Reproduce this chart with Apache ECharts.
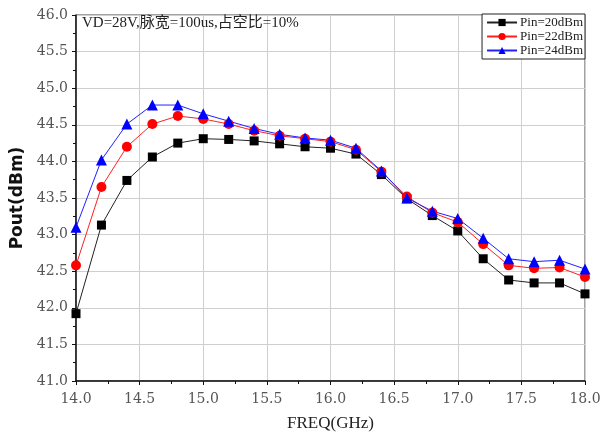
<!DOCTYPE html>
<html>
<head>
<meta charset="utf-8">
<script src="https://cdn.jsdelivr.net/npm/echarts@6/dist/echarts.min.js"></script>
<style>html,body{margin:0;padding:0;background:#fff;}#c{width:600px;height:437px;}</style>
</head>
<body>
<div id="c"></div>
<script>
var freq = [14.0,14.2,14.4,14.6,14.8,15.0,15.2,15.4,15.6,15.8,16.0,16.2,16.4,16.6,16.8,17.0,17.2,17.4,17.6,17.8,18.0];
var pin20 = [41.92,43.13,43.74,44.06,44.25,44.31,44.30,44.28,44.24,44.20,44.18,44.10,43.82,43.49,43.26,43.05,42.67,42.38,42.34,42.34,42.19];
var pin22 = [42.58,43.65,44.20,44.51,44.62,44.58,44.51,44.42,44.35,44.31,44.27,44.16,43.86,43.52,43.30,43.17,42.87,42.58,42.54,42.55,42.42];
var pin24 = [43.10,44.02,44.51,44.77,44.77,44.65,44.55,44.45,44.37,44.32,44.29,44.18,43.87,43.50,43.32,43.22,42.95,42.67,42.63,42.65,42.53];
var seriesNames = ['Pin=20dBm','Pin=22dBm','Pin=24dBm'];
var annotation = 'VD=28V,脉宽=100us,占空比=10%';

function pairs(ys){ return freq.map(function(x,i){ return [x, ys[i]]; }); }
var serif = '"Liberation Serif","DejaVu Serif","Noto Sans CJK SC",serif';
var dserif = '"DejaVu Serif","Liberation Serif","Noto Sans CJK SC",serif';

var chart = echarts.init(document.getElementById('c'));
chart.setOption({
  animation: false,
  backgroundColor: '#fff',
  title: {
    text: annotation, left: 77, top: 11,
    textStyle: {fontFamily: serif, fontSize: 15, fontWeight: 'normal', color: '#222'}
  },
  legend: {
    orient: 'vertical', right: 15, top: 14,
    backgroundColor: '#fff',
    borderColor: '#222', borderWidth: 1, padding: [2, 2, 2, 4],
    itemGap: 1, itemWidth: 30, itemHeight: 9,
    textStyle: {fontFamily: serif, fontSize: 13, color: '#222', padding: [0,0,0,-2]},
    data: seriesNames
  },
  grid: {left: 76, right: 15, top: 15, bottom: 56, show: true, borderColor: '#444', borderWidth: 1,
         containLabel: false, outerBoundsMode: 'none'},
  xAxis: {
    type: 'value', min: 14, max: 18, interval: 0.5,
    name: 'FREQ(GHz)', nameLocation: 'middle', nameGap: 34,
    nameTextStyle: {fontFamily: serif, fontSize: 17, color: '#222'},
    axisLine: {show: true, lineStyle: {color: '#111', width: 1.5}},
    axisTick: {show: true, length: 4, lineStyle: {color: '#111'}},
    minorTick: {show: true, splitNumber: 2, length: 3, lineStyle: {color: '#111'}},
    splitLine: {show: true, lineStyle: {color: '#cfcfcf', width: 1}},
    axisLabel: {fontFamily: dserif, fontSize: 14, color: '#555', margin: 11,
      formatter: function(v){ return v.toFixed(1); }}
  },
  yAxis: {
    type: 'value', min: 41, max: 46, interval: 0.5,
    name: 'Pout(dBm)', nameLocation: 'middle', nameGap: 50, nameRotate: 90,
    nameTextStyle: {fontFamily: '"DejaVu Sans","Noto Sans",sans-serif', fontSize: 17, fontWeight: 'bold', color: '#111'},
    axisLine: {show: true, lineStyle: {color: '#111', width: 1.5}},
    axisTick: {show: true, length: 4, lineStyle: {color: '#111'}},
    minorTick: {show: true, splitNumber: 2, length: 3, lineStyle: {color: '#111'}},
    splitLine: {show: true, lineStyle: {color: '#cfcfcf', width: 1}},
    axisLabel: {fontFamily: dserif, fontSize: 14, color: '#555', margin: 8,
      formatter: function(v){ return v.toFixed(1); }}
  },
  series: [
    {name: seriesNames[0], type: 'line', data: pairs(pin20), symbol: 'rect', symbolSize: 9,
     itemStyle: {color: '#000'}, lineStyle: {color: '#222', width: 1}},
    {name: seriesNames[1], type: 'line', data: pairs(pin22), symbol: 'circle', symbolSize: 10,
     itemStyle: {color: '#ff0000'}, lineStyle: {color: '#ff2020', width: 1}},
    {name: seriesNames[2], type: 'line', data: pairs(pin24), symbol: 'triangle', symbolSize: 11,
     itemStyle: {color: '#0000ff'}, lineStyle: {color: '#2020ff', width: 1}}
  ]
});
</script>
</body>
</html>
